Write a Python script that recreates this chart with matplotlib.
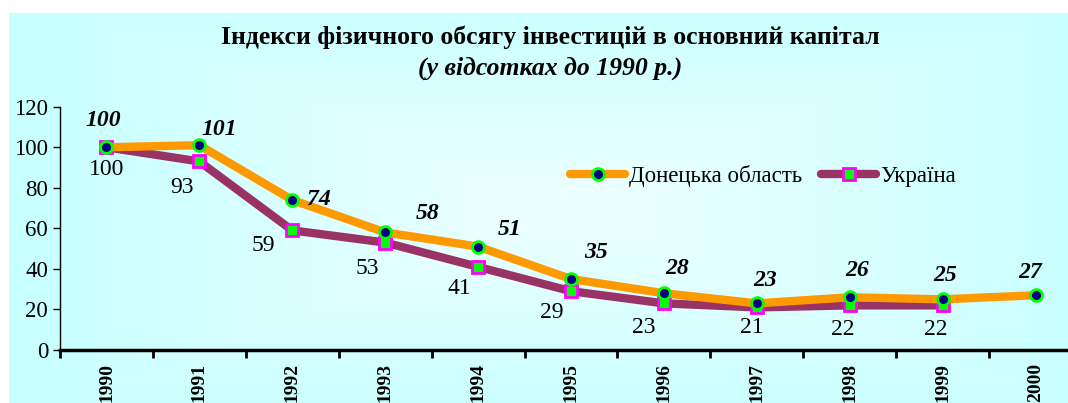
#!/usr/bin/env python3
"""Індекси фізичного обсягу інвестицій в основний капітал (1990 = 100)."""
import numpy as np
import matplotlib.pyplot as plt
from matplotlib.colors import LinearSegmentedColormap

years = ["1990", "1991", "1992", "1993", "1994", "1995",
         "1996", "1997", "1998", "1999", "2000"]
donetsk = [100, 101, 74, 58, 51, 35, 28, 23, 26, 25, 27]
ukraine = [100, 93, 59, 53, 41, 29, 23, 21, 22, 22]

# label offsets in pixels (dx, dy)
don_offsets = [(-3, 27), (20, 16), (27, 0), (42, 19), (32, 17), (25, 27),
               (13, 25), (8, 23), (7, 27), (3, 24), (-5, 23)]
ukr_offsets = [(0, -22), (-17, -26), (-29, -15), (-18, -26), (-19, -22),
               (-19, -21), (-20, -24), (-5, -20), (-7, -24), (-7, -24)]

plt.rcParams["font.family"] = ["Liberation Serif", "DejaVu Serif"]

fig = plt.figure(figsize=(10.68, 4.03), dpi=100)

# cyan panel with a soft lighter centre
bg = fig.add_axes([9 / 1068, 0, 1 - 9 / 1068, 1 - 13 / 403], zorder=-10)
gx = np.linspace(-1, 1, 300)
gy = np.linspace(-1, 1, 120)
X, Y = np.meshgrid(gx, gy)
grad = np.clip(np.maximum(np.abs(X - 0.05), np.abs(Y) * 0.9), 0, 1)
cmap = LinearSegmentedColormap.from_list("bg", ["#EEFFFF", "#C8FFFF"])
bg.imshow(grad, cmap=cmap, aspect="auto", extent=(0, 1, 0, 1))
bg.axis("off")

ax = fig.add_axes([60 / 1068, 53 / 403, 1022 / 1068, 243.3 / 403])
ax.patch.set_alpha(0)
x = np.arange(len(years))

ax.plot(x, donetsk, color="#FF9900", lw=6, marker="o", ms=8.5,
        mfc="#000080", mec="#00FF00", mew=2, solid_capstyle="round",
        label="Донецька область", zorder=3)
ax.plot(x[:len(ukraine)], ukraine, color="#993366", lw=6, marker="s", ms=9,
        mfc="#00FF00", mec="#FF00FF", mew=2, solid_capstyle="round",
        label="Україна", zorder=2)

for xi, v, (dx, dy) in zip(x, donetsk, don_offsets):
    ax.annotate(str(v), (xi, v), xytext=(dx * 0.72, dy * 0.72),
                textcoords="offset points", ha="center", va="center",
                fontsize=17, fontweight="bold", fontstyle="italic")
for xi, v, (dx, dy) in zip(x, ukraine, ukr_offsets):
    ax.annotate(str(v), (xi, v), xytext=(dx * 0.72, dy * 0.72),
                textcoords="offset points", ha="center", va="center",
                fontsize=17)

ax.set_xlim(-0.5, 10.5)
ax.set_ylim(0, 120)
ax.set_yticks(range(0, 121, 20))
ax.set_xticks(np.arange(-0.5, 10.5, 1.0))
ax.set_xticklabels([])
ax.set_xticks(x, minor=True)
ax.set_xticklabels(years, minor=True, rotation=90, fontweight="bold",
                   fontsize=14, va="top")
ax.tick_params(axis="x", which="minor", length=0, pad=9)
ax.tick_params(axis="x", which="major", direction="out", length=6, width=2)
ax.tick_params(axis="y", direction="out", length=5, width=1, labelsize=16.5)
for s in ("top", "right"):
    ax.spines[s].set_visible(False)
ax.spines["bottom"].set_linewidth(2.5)
ax.spines["left"].set_linewidth(1)

leg = ax.legend(loc="center left", bbox_to_anchor=(501 / 1022, (403 - 176 - 53) / 243.3),
                ncol=2, frameon=False, fontsize=16.5, handlelength=2.4,
                handletextpad=0.15, columnspacing=0.85, borderaxespad=0)

fig.text(0.515, 1 - 37 / 403, "Індекси фізичного обсягу інвестицій в основний капітал",
         ha="center", va="center", fontsize=18.5, fontweight="bold")
fig.text(0.515, 1 - 68 / 403, "(у відсотках до 1990 р.)",
         ha="center", va="center", fontsize=18.5, fontweight="bold", fontstyle="italic")

fig.savefig("out.png", dpi=100)
